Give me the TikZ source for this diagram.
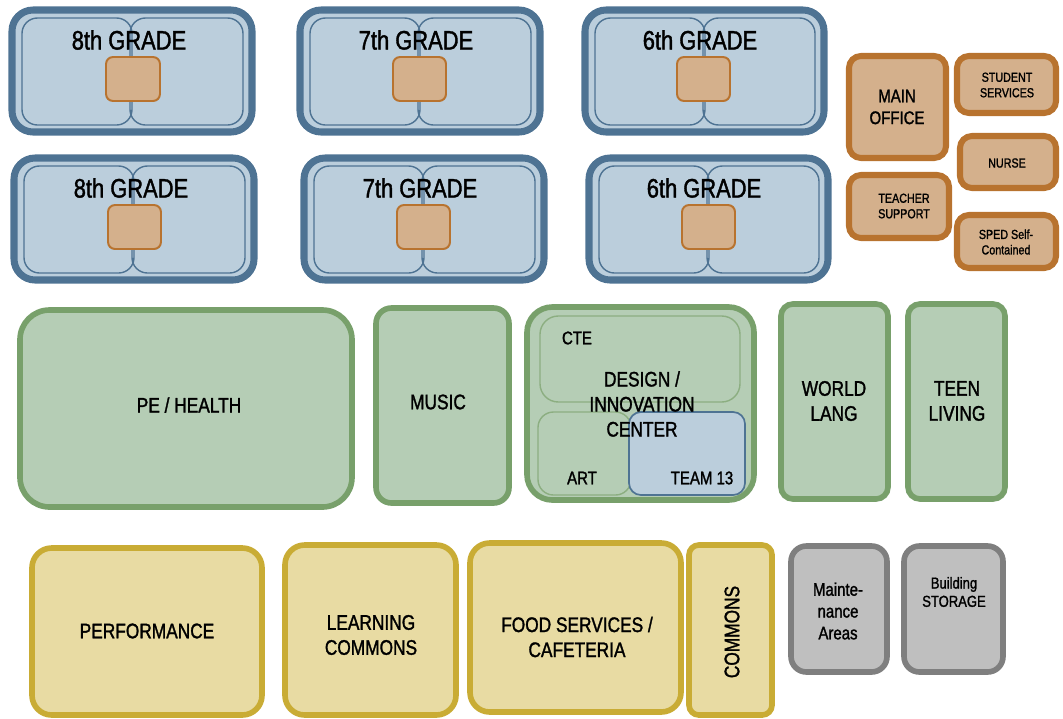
\documentclass[tikz,border=0pt]{standalone}
\usepackage{fontspec}
\setmainfont{Liberation Sans}[FakeStretch=0.82,FakeBold=1.4]
\usepackage{xcolor}
\usetikzlibrary{positioning,fit,calc}

\definecolor{gradeline}{HTML}{4E7393}
\definecolor{gradefill}{HTML}{BBCEDC}
\definecolor{podline}{HTML}{B8732F}
\definecolor{podfill}{HTML}{D4B08C}
\definecolor{greenline}{HTML}{78A06B}
\definecolor{greenfill}{HTML}{B5CDB5}
\definecolor{yellowline}{HTML}{C9AC35}
\definecolor{yellowfill}{HTML}{E8DBA3}
\definecolor{grayline}{HTML}{7F7F7F}
\definecolor{grayfill}{HTML}{BFBFBF}

\begin{document}
\begin{tikzpicture}[
  x=0.025cm, y=-0.025cm,
  room/.style={rectangle, inner sep=0pt},
  gradebox/.style={room, draw=gradeline, fill=gradefill, line width=5pt, rounded corners=15pt},
  halfroom/.style={room, draw=gradeline, line width=1pt, rounded corners=11pt},
  podroom/.style={room, draw=podline, fill=podfill, line width=1.4pt, rounded corners=5pt},
  officebox/.style={room, draw=podline, fill=podfill, line width=4.3pt, rounded corners=8.5pt},
  greenbox/.style={room, draw=greenline, fill=greenfill, line width=4pt, rounded corners=11pt},
  innergreen/.style={room, draw=greenline!85!white, line width=1pt, rounded corners=13pt},
  yellowbox/.style={room, draw=yellowline, fill=yellowfill, line width=4pt, rounded corners=14pt},
  graybox/.style={room, draw=grayline, fill=grayfill, line width=4pt, rounded corners=11pt},
  lbl/.style={align=center, inner sep=0pt, font=\fontsize{15}{17.8}\selectfont},
  gradelbl/.style={lbl, font=\fontsize{19}{20}\selectfont},
  small/.style={lbl, font=\fontsize{13}{15.5}\selectfont},
  tiny/.style={lbl, font=\fontsize{9.3}{11}\selectfont},
]
\useasboundingbox (0,0) rectangle (1063,718);

% Grade wings, top row
\node[gradebox, fit={(12,10) (252,132)}] (g8a) {};
\node[halfroom, fit={(22,18) (132,125)}] (g8aL) {};
\node[halfroom, fit={(130,18) (243,125)}] (g8aR) {};
\node[podroom, fit={(106,57) (160,101)}] (g8aP) {};
\node[gradelbl] (g8aT) at (129,40) {8th GRADE};

\node[gradebox, fit={(300,10) (540,132)}] (g7a) {};
\node[halfroom, fit={(310,18) (420,125)}] (g7aL) {};
\node[halfroom, fit={(418,18) (531,125)}] (g7aR) {};
\node[podroom, fit={(393,57) (446,101)}] (g7aP) {};
\node[gradelbl] (g7aT) at (416,40) {7th GRADE};

\node[gradebox, fit={(585,10) (824,132)}] (g6a) {};
\node[halfroom, fit={(595,18) (705,125)}] (g6aL) {};
\node[halfroom, fit={(703,18) (815,125)}] (g6aR) {};
\node[podroom, fit={(677,57) (730,101)}] (g6aP) {};
\node[gradelbl] (g6aT) at (700,40) {6th GRADE};

% Grade wings, second row
\node[gradebox, fit={(14,158) (254,280)}] (g8b) {};
\node[halfroom, fit={(24,166) (134,273)}] (g8bL) {};
\node[halfroom, fit={(132,166) (245,273)}] (g8bR) {};
\node[podroom, fit={(108,205) (161,249)}] (g8bP) {};
\node[gradelbl] (g8bT) at (131,188) {8th GRADE};

\node[gradebox, fit={(304,158) (544,280)}] (g7b) {};
\node[halfroom, fit={(314,166) (424,273)}] (g7bL) {};
\node[halfroom, fit={(422,166) (535,273)}] (g7bR) {};
\node[podroom, fit={(397,205) (450,249)}] (g7bP) {};
\node[gradelbl] (g7bT) at (420,188) {7th GRADE};

\node[gradebox, fit={(589,158) (828,280)}] (g6b) {};
\node[halfroom, fit={(599,166) (709,273)}] (g6bL) {};
\node[halfroom, fit={(707,166) (819,273)}] (g6bR) {};
\node[podroom, fit={(682,205) (735,249)}] (g6bP) {};
\node[gradelbl] (g6bT) at (704,188) {6th GRADE};

% Office cluster
\node[officebox, fit={(849,56) (946,158)}] (main) {};
\node[officebox, fit={(957,56) (1056,113)}] (student) {};
\node[officebox, fit={(960,136) (1056,188)}] (nurse) {};
\node[officebox, fit={(849,175) (949,238)}] (teacher) {};
\node[officebox, fit={(957,215) (1056,268)}] (sped) {};
\node[small] (mainT) at (897,107) {MAIN\\OFFICE};
\node[tiny] (studentT) at (1007,85) {STUDENT\\SERVICES};
\node[tiny] (nurseT) at (1007,163) {NURSE};
\node[tiny] (teacherT) at (904,206) {TEACHER\\SUPPORT};
\node[tiny] (spedT) at (1006,242) {SPED Self-\\Contained};

% Green row
\node[greenbox, rounded corners=21pt, fit={(20,310) (352,507)}] (pe) {};
\node[greenbox, fit={(376,308) (509,503)}] (music) {};
\node[greenbox, rounded corners=18pt, fit={(527,307) (754,500)}] (design) {};
\node[innergreen, fit={(540,316) (740,402)}] (cte) {};
\node[innergreen, rounded corners=11pt, fit={(538,412) (631,495)}] (art) {};
\node[room, draw=gradeline, fill=gradefill, line width=1.2pt, rounded corners=8.5pt, fit={(629,412) (745,495)}] (team) {};
\node[greenbox, rounded corners=8.5pt, fit={(781,304) (888,499)}] (world) {};
\node[greenbox, rounded corners=8.5pt, fit={(908,304) (1005,499)}] (teen) {};
\node[lbl] (peT) at (189,405) {PE / HEALTH};
\node[lbl] (musicT) at (438,402) {MUSIC};
\node[small] (cteT) at (577,338) {CTE};
\node[small] (artT) at (582,478) {ART};
\node[small] (teamT) at (702,478) {TEAM 13};
\node[lbl] (designT) at (642,404) {DESIGN /\\INNOVATION\\CENTER};
\node[lbl] (worldT) at (834,401) {WORLD\\LANG};
\node[lbl] (teenT) at (957,401) {TEEN\\LIVING};

% Yellow row
\node[yellowbox, fit={(32,548) (262,715)}] (perf) {};
\node[yellowbox, fit={(285,545) (456,715)}] (learn) {};
\node[yellowbox, fit={(470,543) (681,712)}] (food) {};
\node[yellowbox, rounded corners=7pt, fit={(689,545) (772,715)}] (commons) {};
\node[lbl] (perfT) at (147,631) {PERFORMANCE};
\node[lbl] (learnT) at (371,635) {LEARNING\\COMMONS};
\node[lbl] (foodT) at (577,637) {FOOD SERVICES /\\CAFETERIA};
\node[lbl, rotate=90] (commonsT) at (732,632) {COMMONS};

% Gray rooms
\node[graybox, fit={(791,546) (887,672)}] (maint) {};
\node[graybox, fit={(904,546) (1003,672)}] (storage) {};
\node[small] (maintT) at (838,611) {Mainte-\\nance\\Areas};
\node[lbl, font=\fontsize{11.3}{13}\selectfont] (storageT) at (954,592) {Building\\STORAGE};

\end{tikzpicture}
\end{document}
